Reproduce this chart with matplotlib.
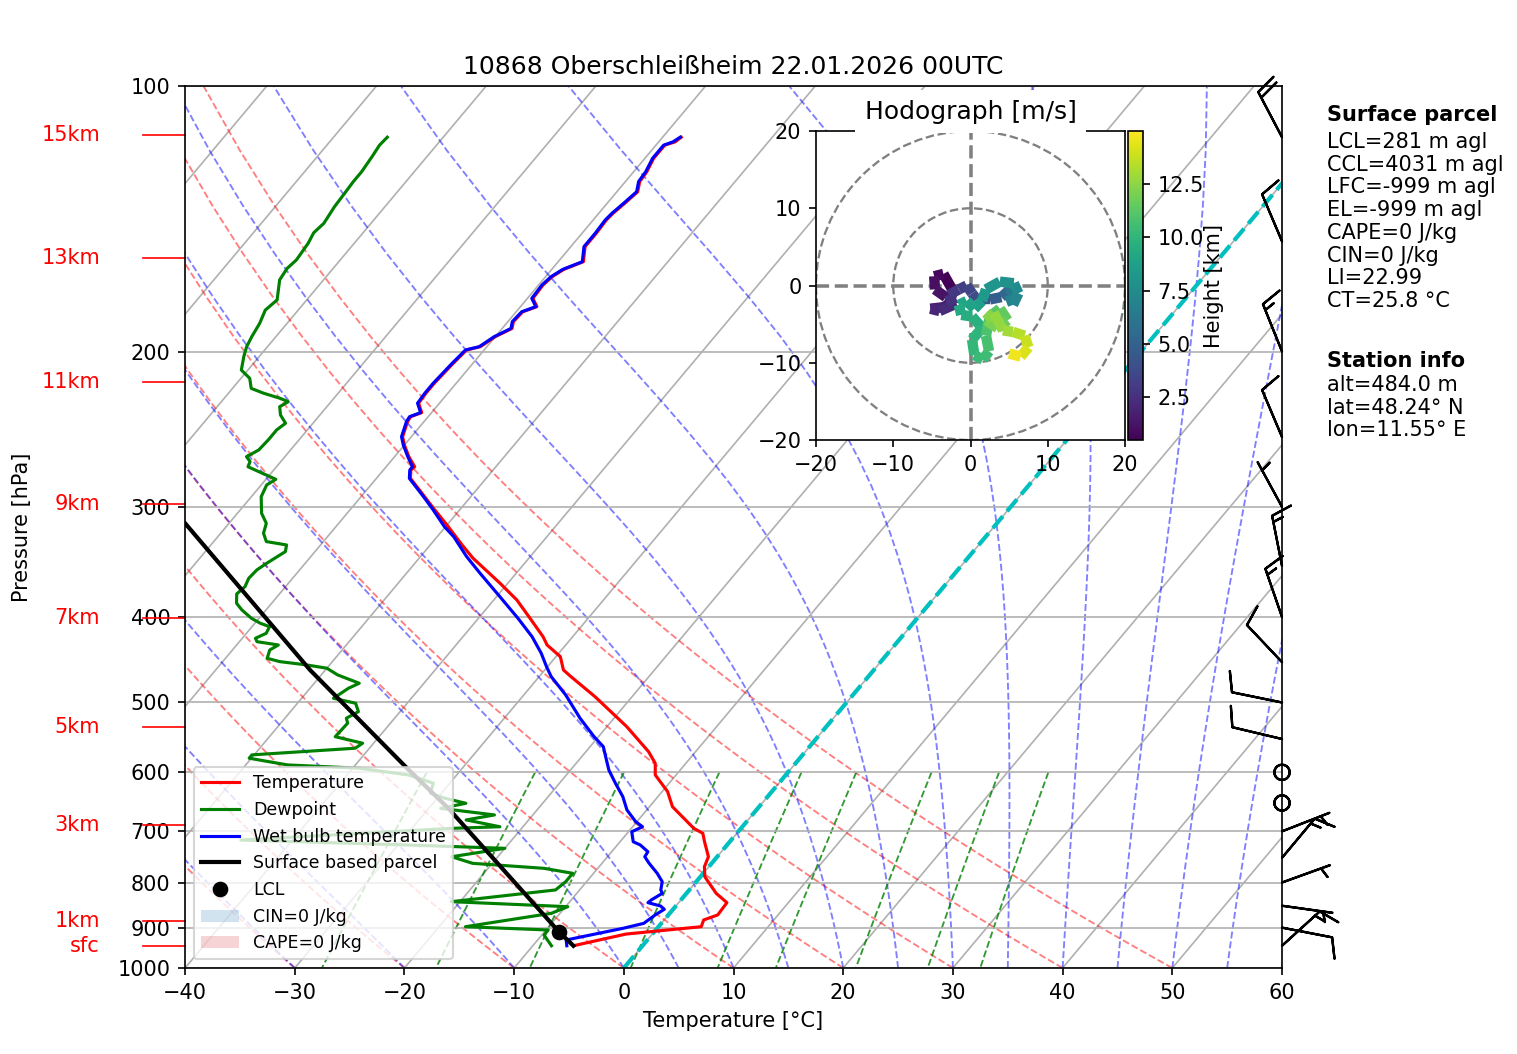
# -*- coding: utf-8 -*-
"""Skew-T log-p diagram with hodograph inset, station 10868."""

import numpy as np
import matplotlib
matplotlib.use('Agg')
import matplotlib.pyplot as plt
import matplotlib.transforms as mtransforms
from matplotlib.collections import LineCollection
from matplotlib.colors import Normalize
from matplotlib.patches import Patch, Circle
from matplotlib.ticker import MultipleLocator, NullLocator

# %% Sounding data

# temperature [degC] vs pressure [hPa]
t_p = [943.6, 915.2, 897.8, 882.2, 870.7, 843.2, 822.8, 788.0, 767.7, 747.9,
       719.2, 703.6, 694.5, 656.4, 631.0, 604.1, 585.9, 568.4, 532.5, 492.3,
       467.4, 459.3, 443.6, 430.3, 421.1, 401.3, 382.6, 366.3, 343.0, 331.4,
       314.6, 301.2, 292.2, 278.5, 272.5, 270.2, 263.2, 255.3, 249.8, 240.2,
       237.1, 234.6, 228.9, 223.0, 217.3, 206.3, 199.2, 197.5, 192.4, 188.3,
       185.0, 180.3, 177.9, 174.1, 168.1, 164.5, 161.4, 158.2, 152.1, 146.9,
       141.9, 139.4, 135.8, 131.8, 128.3, 125.1, 120.8, 116.7, 115.7, 114.3]
t_c = [-6.3, -2.4, 3.9, 3.6, 4.5, 4.4, 2.7, 0.4, -0.4, -0.8,
       -2.3, -3.1, -4.3, -7.9, -9.5, -11.9, -12.8, -14.3, -18.2, -23.4,
       -27.1, -28.3, -29.6, -31.7, -32.7, -35.3, -37.9, -40.7, -45.1, -47.1,
       -50.0, -52.5, -54.2, -56.9, -57.5, -57.4, -58.7, -60.0, -60.8, -61.5,
       -61.6, -60.9, -61.9, -62.0, -62.0, -61.8, -61.6, -60.6, -60.0, -59.1,
       -59.5, -59.4, -58.5, -59.5, -59.6, -59.4, -58.9, -57.7, -58.7, -58.7,
       -58.8, -58.7, -58.4, -58.1, -58.7, -58.8, -59.2, -59.2, -58.5, -58.3]

# dewpoint
td_p = [943.6, 917.5, 905.6, 897.8, 867.0, 852.1, 841.0, 815.7, 798.3, 781.0,
        770.9, 760.9, 747.9, 731.7, 725.4, 716.0, 694.5, 691.6, 679.4, 670.6,
        659.2, 650.5, 642.0, 633.6, 617.3, 604.1, 593.6, 588.5, 578.3, 573.3,
        563.4, 556.1, 546.7, 527.8, 520.9, 512.1, 501.0, 494.5, 481.8, 475.5,
        465.3, 457.2, 453.3, 449.4, 445.5, 435.9, 430.3, 426.6, 422.8, 417.4,
        410.2, 406.6, 401.3, 392.7, 385.9, 376.6, 369.5, 361.5, 353.7, 347.5,
        337.2, 331.4, 328.5, 321.4, 313.2, 305.1, 292.2, 283.4, 279.2, 276.1,
        270.2, 266.6, 263.2, 258.6, 251.9, 245.4, 241.2, 236.0, 231.0, 228.0,
        226.0, 223.0, 220.2, 214.5, 209.9, 202.7, 197.5, 192.4, 185.8, 179.5,
        174.8, 165.9, 161.0, 157.5, 150.8, 146.7, 143.1, 137.0, 132.3, 128.3,
        125.1, 120.3, 116.7, 114.3]
td_c = [-8.3, -9.8, -9.8, -17.6, -10.8, -9.8, -20.8, -12.2, -11.9, -11.9,
        -14.9, -21.8, -24.2, -20.0, -29.0, -44.7, -26.4, -22.1, -25.7, -23.5,
        -28.9, -27.0, -29.3, -31.0, -31.5, -34.4, -39.4, -46.2, -50.2, -50.2,
        -41.3, -41.0, -44.0, -43.9, -44.4, -43.8, -44.7, -47.1, -46.5, -45.9,
        -48.5, -50.0, -52.1, -54.8, -56.2, -56.6, -56.2, -58.4, -58.8, -58.2,
        -58.4, -59.5, -60.7, -62.2, -63.2, -63.9, -63.7, -64.0, -63.9, -63.5,
        -62.7, -63.1, -65.2, -66.1, -66.6, -67.8, -69.1, -69.5, -69.1, -70.3,
        -72.6, -72.8, -73.5, -72.9, -72.8, -72.8, -72.5, -73.6, -74.3, -73.9,
        -74.9, -76.8, -78.3, -79.2, -80.6, -81.4, -81.9, -82.2, -82.5, -83.0,
        -82.7, -84.0, -84.2, -84.0, -84.2, -84.5, -84.3, -84.6, -84.7, -84.8,
        -84.8, -85.0, -85.2, -85.1]

# wet bulb temperature
tw_p = [943.6, 929.5, 901.5, 890.0, 870.7, 857.9, 850.5, 843.2, 837.2, 822.8,
        815.7, 798.3, 781.0, 760.9, 747.9, 738.2, 725.4, 719.2, 700.7, 691.6,
        682.6, 662.0, 639.3, 617.3, 596.5, 580.9, 561.1, 546.7, 520.9, 490.1,
        467.4, 455.3, 439.7, 421.1, 401.3, 379.3, 356.8, 341.6, 324.3, 316.0,
        302.5, 292.2, 278.5, 272.5, 270.2, 263.2, 255.3, 249.8, 240.2, 237.1,
        234.6, 228.9, 223.0, 217.3, 206.3, 199.2, 197.5, 192.4, 188.3, 185.0,
        180.3, 177.9, 174.1, 168.1, 164.5, 161.4, 158.2, 152.1, 146.9, 141.9,
        139.4, 135.8, 131.8, 128.3, 125.1, 120.8, 116.7, 115.7, 114.3]
tw_c = [-6.9, -7.4, -3.1, -1.6, -1.2, -0.8, -1.4, -2.8, -2.7, -2.2,
        -2.6, -3.1, -4.2, -5.7, -6.6, -6.7, -7.9, -8.8, -9.7, -9.1,
        -10.1, -11.8, -13.2, -14.9, -16.5, -17.5, -18.8, -20.4, -23.1, -26.2,
        -28.9, -30.1, -31.6, -33.7, -36.4, -39.7, -43.3, -45.8, -48.5, -50.1,
        -52.4, -54.3, -57.0, -57.6, -57.6, -58.8, -60.1, -60.9, -61.6, -61.7,
        -61.0, -62.0, -62.1, -62.1, -61.9, -61.7, -60.7, -60.1, -59.2, -59.6,
        -59.5, -58.6, -59.6, -59.7, -59.5, -59.0, -57.8, -58.8, -58.8, -58.9,
        -58.8, -58.5, -58.2, -58.8, -58.9, -59.3, -59.3, -58.7, -58.4]

# surface based parcel path and LCL
parcel_p = [943.6, 909.6, 659.2, 591.2, 459.3, 313.2]
parcel_c = [-6.3, -8.7, -28.2, -35.3, -51.4, -74.0]
lcl_p, lcl_c = 909.6, -8.7

# wind barbs [kt]
barb_p = [943.6, 900, 850, 800, 750, 700, 650, 600, 550, 500,
          450, 400, 350, 300, 250, 200, 150, 114.3]
barb_u = [-11.1, -9.8, -5.0, -4.7, -9.6, -4.6, 0.0, 0.0, 9.7, 9.8,
          6.9, 4.9, 2.9, 2.4, 3.9, 5.6, 3.9, 9.3]
barb_v = [-10.1, 1.9, 0.7, -1.7, -11.5, -1.8, 0.0, 0.0, -2.3, -2.0,
          -7.3, -14.2, -14.7, -4.4, -9.2, -13.9, -9.2, -17.7]

# hodograph [m/s] with height [km]
hodo_z = [0.48, 0.7, 0.9, 1.1, 1.3, 1.5, 1.7, 1.9, 2.1, 2.4,
          2.7, 3.0, 3.3, 3.6, 4.0, 4.5, 5.0, 5.5, 6.0, 6.5,
          7.0, 7.3, 7.6, 7.9, 8.2, 8.5, 8.8, 9.0, 9.2, 9.4,
          9.6, 9.8, 10.0, 10.2, 10.4, 10.6, 10.8, 11.0, 11.3, 11.6,
          11.9, 12.2, 12.5, 12.8, 13.2, 13.6, 14.0, 14.4, 15.0]
hodo_u = [-2.2, -3.5, -4.7, -4.6, -3.2, -2.0, -3.5, -5.2, -4.0, -2.2,
          -2.8, -1.5, -0.5, 0.2, 0.8, 2.5, 4.0, 5.0, 5.8, 5.0,
          5.5, 6.2, 5.6, 3.8, 2.0, 1.5, 0.5, -0.5, -1.5, -1.2,
          0.2, 1.5, 0.2, 0.5, 1.6, 2.4, 2.0, 2.5, 3.8, 4.8,
          3.5, 2.0, 3.0, 4.2, 5.5, 7.0, 7.5, 6.5, 5.0]
hodo_v = [-0.8, 1.5, 1.2, -0.5, -1.5, -2.0, -2.8, -3.0, -3.3, -2.5,
          -1.2, -0.5, 0.0, -1.0, -1.8, -1.8, -1.5, -0.6, 0.2, -1.2,
          -2.5, -1.0, 0.3, 0.5, -0.5, -2.0, -3.0, -2.0, -2.5, -3.8,
          -4.0, -5.5, -7.0, -9.0, -9.6, -8.5, -6.5, -4.0, -3.0, -4.5,
          -5.5, -4.5, -3.5, -5.8, -6.0, -6.5, -8.0, -9.2, -8.8]

# height markers on the left
hgt_labels = ['sfc', '1km', '3km', '5km', '7km', '9km', '11km', '13km', '15km']
hgt_p = [943.4, 884.6, 688.4, 532.6, 401.4, 297.8, 216.4, 156.8, 113.7]

# background line families
dry_t0 = np.arange(-40, 51, 10)
moist_t0 = np.concatenate((np.arange(-40, 0, 10), np.arange(0, 61, 5)))
mix_w = [0.0004, 0.001, 0.002, 0.004, 0.007, 0.01, 0.016, 0.024, 0.032]
iso_t = np.arange(-100, 61, 10)

title = '10868 Oberschleißheim 22.01.2026 00UTC'
parcel_info = ['LCL=281 m agl', 'CCL=4031 m agl', 'LFC=-999 m agl', 'EL=-999 m agl',
               'CAPE=0 J/kg', 'CIN=0 J/kg', 'LI=22.99', 'CT=25.8 °C']
station_info = ['alt=484.0 m', 'lat=48.24° N', 'lon=11.55° E']

# %% Helpers

SKEW = 67.45  # degC shift per decade of pressure


def skew_x(t, p):
    """Skewed x position of temperature t at pressure p."""
    return np.asarray(t, dtype=float) + SKEW * np.log10(1000.0 / np.asarray(p, dtype=float))


def sat_vap(tk):
    tc = tk - 273.15
    return 6.112 * np.exp(17.67 * tc / (tc + 243.5))


def moist_lapse(t0, p):
    """Saturated adiabats from 1000 hPa, RK4 in pressure."""
    rd, cp, lv, eps = 287.04749, 1004.6662, 2.50084e6, 0.62196

    def dtdp(tk, pp):
        es = sat_vap(tk)
        rs = eps * es / (pp - es)
        return (rd * tk + lv * rs) / (cp + lv * lv * rs * eps / (rd * tk * tk)) / pp

    tk = np.asarray(t0, dtype=float) + 273.15
    out = [tk.copy()]
    for pa, pb in zip(p[:-1], p[1:]):
        h = (pb - pa) / 4.0
        pp = pa
        for _ in range(4):
            k1 = dtdp(tk, pp)
            k2 = dtdp(tk + 0.5 * h * k1, pp + 0.5 * h)
            k3 = dtdp(tk + 0.5 * h * k2, pp + 0.5 * h)
            k4 = dtdp(tk + h * k3, pp + h)
            tk = tk + h * (k1 + 2 * k2 + 2 * k3 + k4) / 6.0
            pp += h
        out.append(tk.copy())
    return np.array(out).T - 273.15


# %% Figure

DPI = 150
fig = plt.figure(figsize=(1517 / DPI, 1054 / DPI), dpi=DPI)
ax = fig.add_axes([0.1220, 0.0816, 0.7231, 0.8368])
ax.set_yscale('log')

p_lin = np.linspace(1000, 100, 50)

# isotherms and isobars
for t in iso_t:
    ax.plot(skew_x([t, t], [1000, 100]), [1000, 100], color='#b0b0b0', lw=0.8, zorder=1)
ax.grid(True, axis='y', color='#b0b0b0', lw=0.8)

# dry adiabats
for t0 in dry_t0:
    tt = (t0 + 273.15) * (p_lin / 1000.0) ** 0.2857 - 273.15
    ax.plot(skew_x(tt, p_lin), p_lin, color='r', ls='--', lw=0.9, alpha=0.5, zorder=1.5)

# moist adiabats
moist = moist_lapse(moist_t0, p_lin)
for tt in moist:
    ax.plot(skew_x(tt, p_lin), p_lin, color='b', ls='--', lw=0.9, alpha=0.5, zorder=1.5)

# mixing ratio lines
p_mix = np.linspace(600, 1000, 50)
for w in mix_w:
    e = p_mix * w / (0.622 + w)
    val = np.log(e / 6.112)
    tt = 243.5 * val / (17.67 - val)
    ax.plot(skew_x(tt, p_mix), p_mix, color='g', ls='--', lw=0.9, alpha=0.8, zorder=1.5)

# 0 degC isotherm
ax.plot(skew_x([0, 0], [1000, 100]), [1000, 100], 'c--', lw=2, zorder=2)

# profiles
ax.plot(skew_x(t_c, t_p), t_p, color='r', lw=1.5, zorder=4, label='Temperature')
ax.plot(skew_x(td_c, td_p), td_p, color='g', lw=1.5, zorder=4, label='Dewpoint')
ax.plot(skew_x(tw_c, tw_p), tw_p, color='b', lw=1.5, zorder=4.1, label='Wet bulb temperature')
ax.plot(skew_x(parcel_c, parcel_p), parcel_p, color='k', lw=2, zorder=4.2,
        label='Surface based parcel')
ax.plot(skew_x([lcl_c], [lcl_p]), [lcl_p], 'ko', ms=6.5, zorder=4.3, label='LCL')

ax.set_xlim(-40, 60)
ax.set_ylim(1000, 100)
ax.xaxis.set_major_locator(MultipleLocator(10))
yt = np.arange(100, 1001, 100)
ax.set_yticks(yt)
ax.set_yticklabels([str(v) for v in yt])
ax.yaxis.set_minor_locator(NullLocator())
ax.set_xlabel('Temperature [°C]')
ax.set_ylabel('Pressure [hPa]')
ax.yaxis.set_label_coords(-0.1395, 0.5)
ax.set_title(title, fontsize=12)

# height markers
trans = mtransforms.blended_transform_factory(ax.transAxes, ax.transData)
for lab, p in zip(hgt_labels, hgt_p):
    ax.plot([-0.0383, 0], [p, p], transform=trans, color='r', lw=0.8, clip_on=False)
    ax.text(-0.0775, p, lab, transform=trans, color='r', ha='right', va='center')

# wind barbs along the right edge
ax.barbs(np.ones(len(barb_p)), barb_p, barb_u, barb_v, transform=trans,
         clip_on=False, length=7, linewidth=1.1, zorder=6)

# legend
handles, labels = ax.get_legend_handles_labels()
handles += [Patch(facecolor='tab:blue', alpha=0.2), Patch(facecolor='tab:red', alpha=0.2)]
labels += ['CIN=0 J/kg', 'CAPE=0 J/kg']
ax.legend(handles, labels, loc='lower left', fontsize='small', handlelength=2.2)

# %% Hodograph inset
axh = fig.add_axes([0.5379, 0.5825, 0.2037, 0.2932])
axh.set_xlim(-20, 20)
axh.set_ylim(-20, 20)
axh.xaxis.set_major_locator(MultipleLocator(10))
axh.yaxis.set_major_locator(MultipleLocator(10))
for r in (10, 20):
    axh.add_patch(Circle((0, 0), r, fill=False, color='grey', ls='--', lw=1.1))
axh.axhline(0, color='grey', ls='--', lw=1.7)
axh.axvline(0, color='grey', ls='--', lw=1.7)
pts = np.column_stack([hodo_u, hodo_v]).reshape(-1, 1, 2)
segs = np.concatenate([pts[:-1], pts[1:]], axis=1)
zz = np.asarray(hodo_z)
lc = LineCollection(segs, cmap='viridis', norm=Normalize(zz.min(), zz.max()), lw=5)
lc.set_array(0.5 * (zz[:-1] + zz[1:]))
axh.add_collection(lc)
axh.set_title('Hodograph [m/s]', fontsize=12,
              bbox=dict(facecolor='white', edgecolor='none', pad=4.5))

cax = fig.add_axes([0.7436, 0.5825, 0.0099, 0.2932])
cb = fig.colorbar(lc, cax=cax, ticks=[2.5, 5.0, 7.5, 10.0, 12.5], format='%.1f')
cb.set_label('Height [km]', labelpad=0)

# %% Info text
x_txt = 1327 / 1517
fig.text(x_txt, 0.9005, 'Surface parcel', fontweight='bold', va='top')
fig.text(x_txt, 0.8748, '\n'.join(parcel_info), va='top', linespacing=1.17)
fig.text(x_txt, 0.6671, 'Station info', fontweight='bold', va='top')
fig.text(x_txt, 0.6443, '\n'.join(station_info), va='top', linespacing=1.17)

fig.savefig('out.png', dpi=DPI)
